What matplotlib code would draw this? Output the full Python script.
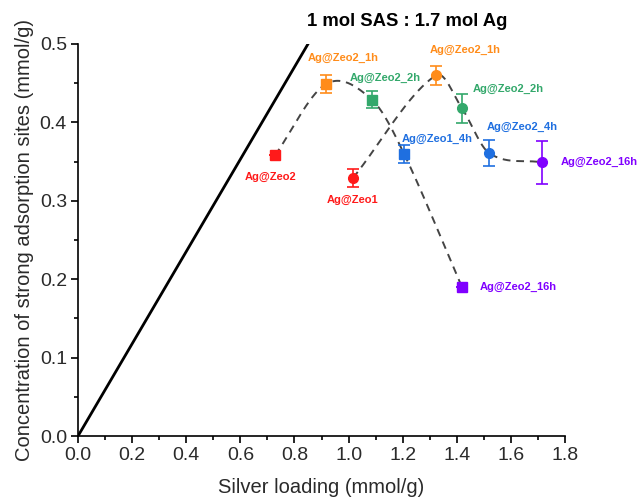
import numpy as np
import matplotlib.pyplot as plt

plt.rcParams['font.family'] = ['Liberation Sans', 'DejaVu Sans']

# Zeo2 series (squares)
sq_labels = ['Ag@Zeo2', 'Ag@Zeo2_1h', 'Ag@Zeo2_2h', 'Ag@Zeo1_4h', 'Ag@Zeo2_16h']
sq_x = [0.728, 0.917, 1.086, 1.205, 1.419]
sq_y = [0.358, 0.449, 0.429, 0.360, 0.190]
sq_err = [0.0, 0.012, 0.011, 0.0115, 0.0]

# Zeo1 series (circles)
ci_labels = ['Ag@Zeo1', 'Ag@Zeo2_1h', 'Ag@Zeo2_2h', 'Ag@Zeo2_4h', 'Ag@Zeo2_16h']
ci_x = [1.016, 1.323, 1.419, 1.519, 1.715]
ci_y = [0.329, 0.460, 0.418, 0.361, 0.349]
ci_err = [0.0115, 0.012, 0.0185, 0.017, 0.027]

colors = ['#ff1a1a', '#ff8c1a', '#33a86b', '#1f6fe0', '#8000ff']

# label offsets in pixels (dx, dy)
sq_off = [(-4, -22), (17, 26), (13, 22), (33, 15), (56, 0)]
ci_off = [(0, -22), (29, 25), (46, 19), (33, 26), (57, 0)]

ratio = 1.7  # mol Ag per mol SAS


def smooth(x, y, n=200):
    # cubic Hermite curve with finite-difference tangents
    x = np.asarray(x, float)
    y = np.asarray(y, float)
    k = len(x)
    m = np.empty(k)
    m[0] = (y[1] - y[0]) / (x[1] - x[0])
    m[-1] = (y[-1] - y[-2]) / (x[-1] - x[-2])
    m[1:-1] = (y[2:] - y[:-2]) / (x[2:] - x[:-2])
    xs = np.linspace(x[0], x[-1], n)
    i = np.clip(np.searchsorted(x, xs) - 1, 0, k - 2)
    h = x[i + 1] - x[i]
    t = (xs - x[i]) / h
    ys = ((2 * t**3 - 3 * t**2 + 1) * y[i] + (t**3 - 2 * t**2 + t) * h * m[i]
          + (-2 * t**3 + 3 * t**2) * y[i + 1] + (t**3 - t**2) * h * m[i + 1])
    return xs, ys


fig = plt.figure(figsize=(6.38, 5.01), dpi=100)
ax = fig.add_axes([0.1223, 0.1297, 0.7633, 0.7825])

# stoichiometric line
lx = np.array([0, 0.5 * ratio])
ax.plot(lx, lx / ratio, color='black', lw=2)

for xs, ys in (smooth(sq_x, sq_y), smooth(ci_x, ci_y)):
    ax.plot(xs, ys, ls=(0, (4, 3)), color='#444444', lw=1.4, zorder=2)

for i in range(5):
    ax.errorbar(sq_x[i], sq_y[i], yerr=sq_err[i], fmt='s', ms=7, color=colors[i],
                capsize=4, elinewidth=1.2, capthick=1.2, zorder=3)
    ax.annotate(sq_labels[i], (sq_x[i], sq_y[i]), xytext=sq_off[i],
                textcoords='offset pixels', ha='center', va='center',
                color=colors[i], fontsize=8, fontweight='bold', annotation_clip=False)
    ax.errorbar(ci_x[i], ci_y[i], yerr=ci_err[i], fmt='o', ms=7, color=colors[i],
                capsize=4, elinewidth=1.2, capthick=1.2, zorder=3)
    ax.annotate(ci_labels[i], (ci_x[i], ci_y[i]), xytext=ci_off[i],
                textcoords='offset pixels', ha='center', va='center',
                color=colors[i], fontsize=8, fontweight='bold', annotation_clip=False)

ax.set_xlim(0, 1.8)
ax.set_ylim(0, 0.5)
ax.set_xticks(np.arange(0, 1.81, 0.2))
ax.set_xticks(np.arange(0.1, 1.8, 0.2), minor=True)
ax.set_yticks(np.arange(0, 0.51, 0.1))
ax.set_yticks(np.arange(0.05, 0.5, 0.1), minor=True)
ax.tick_params(which='major', direction='out', length=5, width=1.2, labelsize=14,
               labelcolor='#2a2a2a', pad=3)
ax.tick_params(which='minor', direction='out', length=3, width=1.2)
for s in ('top', 'right'):
    ax.spines[s].set_visible(False)
for s in ('left', 'bottom'):
    ax.spines[s].set_linewidth(1.2)

ax.set_xlabel('Silver loading (mmol/g)', fontsize=14.5, labelpad=10, color='#2a2a2a')
ax.set_ylabel('Concentration of strong adsorption sites (mmol/g)', fontsize=14.5,
              labelpad=4, color='#2a2a2a')
fig.text(0.639, 0.958, '1 mol SAS : 1.7 mol Ag', ha='center', va='center',
         fontsize=13.3, fontweight='bold')

fig.savefig('out.png', dpi=100)
